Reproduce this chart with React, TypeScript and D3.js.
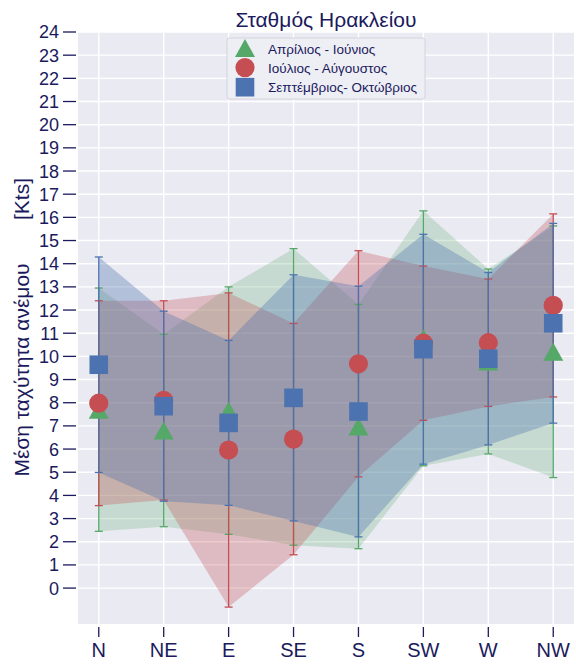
import * as d3 from 'd3';

const categories = ['N', 'NE', 'E', 'SE', 'S', 'SW', 'W', 'NW'];

// Απρίλιος - Ιούνιος
const aprJunMean = [7.7, 6.8, 7.66, 8.25, 6.97, 10.78, 9.78, 10.2];
const aprJunStd = [5.25, 4.15, 5.34, 6.4, 5.27, 5.5, 3.99, 5.43];
// Ιούλιος - Αύγουστος
const julAugMean = [7.98, 8.1, 5.96, 6.43, 9.68, 10.57, 10.59, 12.2];
const julAugStd = [4.42, 4.3, 6.78, 4.99, 4.88, 3.33, 2.75, 3.95];
// Σεπτέμβριος- Οκτώβριος
const sepOctMean = [9.64, 7.85, 7.13, 8.21, 7.62, 10.31, 9.9, 11.43];
const sepOctStd = [4.65, 4.1, 3.56, 5.31, 5.41, 4.96, 3.72, 4.31];

const yTicks = d3.range(0, 25);

const series = [
  { name: 'Απρίλιος - Ιούνιος', mean: aprJunMean, std: aprJunStd, color: '#55a868', alpha: 0.24, marker: 'triangle' },
  { name: 'Ιούλιος - Αύγουστος', mean: julAugMean, std: julAugStd, color: '#c44e52', alpha: 0.3, marker: 'circle' },
  { name: 'Σεπτέμβριος- Οκτώβριος', mean: sepOctMean, std: sepOctStd, color: '#4c72b0', alpha: 0.35, marker: 'square' },
];

const width = 576;
const height = 664;
const margin = { top: 32, right: 2, bottom: 40, left: 78 };
const ink = '#1a1a5c';
const font = 'Liberation Sans, Arial, sans-serif';

function Marker({ type, x, y, color }: { type: string; x: number; y: number; color: string }) {
  if (type === 'circle') return <circle cx={x} cy={y} r={9.6} fill={color} />;
  if (type === 'square') return <rect x={x - 9.3} y={y - 9.3} width={18.6} height={18.6} fill={color} />;
  return <path d={`M${x},${y - 9} L${x + 10},${y + 9} L${x - 10},${y + 9} Z`} fill={color} />;
}

export default function App() {
  const x = d3.scaleLinear()
    .domain([-0.32, 7.32])
    .range([margin.left, width - margin.right]);

  const y = d3.scaleLinear()
    .domain([-1.55, 24])
    .range([height - margin.bottom, margin.top]);

  const idx = categories.map((_, i) => i);

  const area = (s: typeof series[0]) => d3.area<number>()
    .x(i => x(i))
    .y0(i => y(s.mean[i] - s.std[i]))
    .y1(i => y(s.mean[i] + s.std[i]))(idx);

  return (
    <svg width={width} height={height} style={{ position: 'absolute', left: 0, top: 0, fontFamily: font }}>
      <rect x={0} y={0} width={width} height={height} fill="#fff" />
      {/* plot background + grid */}
      <rect x={x(-0.32)} y={y(24)} width={x(7.32) - x(-0.32)} height={y(-1.55) - y(24)} fill="#eaeaf2" />
      {yTicks.map(t => (
        <line key={'gy' + t} x1={x(-0.32)} x2={x(7.32)} y1={y(t)} y2={y(t)} stroke="#fff" strokeWidth={1.4} />
      ))}
      {idx.map(i => (
        <line key={'gx' + i} x1={x(i)} x2={x(i)} y1={y(24)} y2={y(-1.55)} stroke="#fff" strokeWidth={1.4} />
      ))}

      {/* bands */}
      {series.map(s => (
        <path key={'a' + s.name} d={area(s) ?? ''} fill={s.color} fillOpacity={s.alpha} />
      ))}

      {/* error bars */}
      {series.map(s => (
        <g key={'e' + s.name} stroke={s.color} strokeWidth={1.3}>
          {idx.map(i => {
            const lo = y(s.mean[i] - s.std[i]);
            const hi = y(s.mean[i] + s.std[i]);
            return (
              <g key={i}>
                <line x1={x(i)} x2={x(i)} y1={lo} y2={hi} />
                <line x1={x(i) - 4} x2={x(i) + 4} y1={lo} y2={lo} />
                <line x1={x(i) - 4} x2={x(i) + 4} y1={hi} y2={hi} />
              </g>
            );
          })}
        </g>
      ))}

      {/* markers */}
      {series.map(s => (
        <g key={'m' + s.name}>
          {idx.map(i => (
            <Marker key={i} type={s.marker} x={x(i)} y={y(s.mean[i])} color={s.color} />
          ))}
        </g>
      ))}

      {/* y axis */}
      {yTicks.map(t => (
        <g key={'ty' + t}>
          <line x1={63} x2={76} y1={y(t)} y2={y(t)} stroke={ink} strokeWidth={1.3} />
          <text x={59} y={y(t)} dy="0.36em" textAnchor="end" fontSize={18} fill={ink}>{t}</text>
        </g>
      ))}

      {/* x axis */}
      {categories.map((c, i) => (
        <g key={'tx' + c}>
          <line x1={x(i)} x2={x(i)} y1={y(-1.55) + 3} y2={y(-1.55) + 13} stroke={ink} strokeWidth={1.3} />
          <text x={x(i)} y={657} textAnchor="middle" fontSize={20} fill={ink}>{c}</text>
        </g>
      ))}

      {/* title and y label */}
      <text x={(x(-0.32) + x(7.32)) / 2} y={27} textAnchor="middle" fontSize={21} fill={ink}>Σταθμός Ηρακλείου</text>
      <text transform="translate(29,199) rotate(-90)" textAnchor="middle" fontSize={21} fill={ink}>[Kts]</text>
      <text transform="translate(29,370) rotate(-90)" textAnchor="middle" fontSize={21} fill={ink}>Μέση ταχύτητα ανέμου</text>

      {/* legend */}
      <g>
        <rect x={227} y={38} width={198} height={61} rx={2} fill="#eeeef5" stroke="#d4d4de" strokeWidth={1} />
        {series.map((s, k) => (
          <g key={'l' + s.name}>
            <Marker type={s.marker} x={245} y={48 + k * 19.6} color={s.color} />
            <text x={268} y={53.5 + k * 19.2} fontSize={13.5} fill={ink}>{s.name}</text>
          </g>
        ))}
      </g>
    </svg>
  );
}
